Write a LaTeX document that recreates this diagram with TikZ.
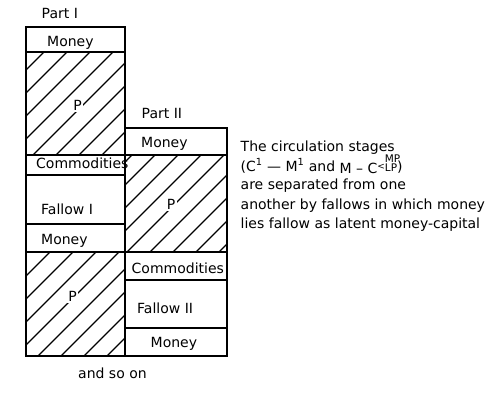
\documentclass[tikz,border=0pt]{standalone}
\usepackage{fontspec}
\setmainfont{DejaVu Sans}
\begin{document}
\begin{tikzpicture}[x=1pt,y=-1pt,
  box/.style={draw, line width=1.9pt, rectangle, inner sep=0pt, outer sep=0pt},
  hatch/.style={path picture={\foreach \k in {-7,...,7}{\draw[line width=1.3pt] ([xshift=#1+\k*23pt]path picture bounding box.south west) -- ++(170pt,170pt);}}},
  lbl/.style={anchor=base west, inner sep=0pt, font=\fontsize{14}{16}\selectfont},
  txt/.style={anchor=base west, inner sep=0pt, font=\fontsize{14}{16}\selectfont},
  pl/.style={fill=white, inner sep=1.5pt, font=\fontsize{14}{16}\selectfont}
]
\useasboundingbox (0,0) rectangle (500,392);
% left column
\node[box, minimum width=99pt, minimum height=25pt] (m1) at (75.5,39.5) {};
\node[box, hatch=7pt, minimum width=99pt, minimum height=103pt] (p1) at (75.5,103.5) {};
\node[box, minimum width=99pt, minimum height=20pt] (c1) at (75.5,165) {};
\node[box, minimum width=99pt, minimum height=49pt] (f1) at (75.5,199.5) {};
\node[box, minimum width=99pt, minimum height=28pt] (m2) at (75.5,238) {};
\node[box, hatch=12pt, minimum width=99pt, minimum height=104pt] (p2) at (75.5,304) {};
% right column
\node[box, minimum width=102pt, minimum height=27pt] (m3) at (176,141.5) {};
\node[box, hatch=2pt, minimum width=102pt, minimum height=97pt] (p3) at (176,203.5) {};
\node[box, minimum width=102pt, minimum height=28pt] (c2) at (176,266) {};
\node[box, minimum width=102pt, minimum height=48pt] (f2) at (176,304) {};
\node[box, minimum width=102pt, minimum height=28pt] (m4) at (176,342) {};
% labels
\node[lbl] (partI) at (41.5,18) {Part I};
\node[lbl] (partII) at (141.5,118) {Part II};
\node[lbl] (lm1) at (47,46) {Money};
\node[pl] (lp1) at (77.5,105) {P};
\node[lbl] (lc1) at (36,168) {Commodities};
\node[lbl] (lf1) at (41,214) {Fallow I};
\node[lbl] (lm2) at (41,244) {Money};
\node[pl] (lp2) at (72.5,296) {P};
\node[lbl] (lm3) at (141,147) {Money};
\node[pl] (lp3) at (171,204) {P};
\node[lbl] (lc2) at (131.5,273) {Commodities};
\node[lbl] (lf2) at (137,313) {Fallow II};
\node[lbl] (lm4) at (150.5,347) {Money};
\node[lbl] (soon) at (78,378) {and so on};
% explanation
\node[txt] (t1) at (240.5,151) {The circulation stages};
\node[txt] (t2) at (240.5,171) {(C\textsuperscript{1} — M\textsuperscript{1} and \raisebox{-2pt}{M – C}{\fontsize{9}{9}\selectfont\raisebox{1.5pt}{<}}{\fontsize{10.5}{10.5}\selectfont\rlap{\raisebox{8.8pt}{MP}}LP})};
\node[txt] (t3) at (240.5,189) {are separated from one};
\node[txt] (t4) at (240.5,209) {another by fallows in which money};
\node[txt] (t5) at (240.5,228) {lies fallow as latent money-capital};
\end{tikzpicture}
\end{document}
